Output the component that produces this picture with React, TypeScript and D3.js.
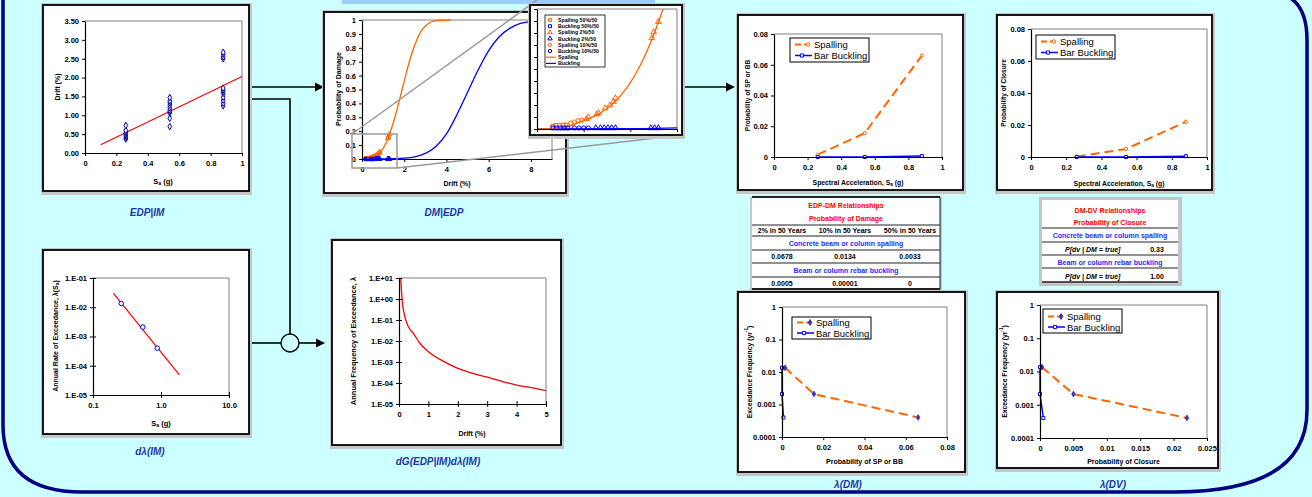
import React, { useEffect, useRef } from 'react';
import * as d3 from 'd3';

const FONT = '"Liberation Sans", Arial, Helvetica, sans-serif';
const ORANGE = '#ff6600';
const BLUE = '#0000ff';
const NAVY = '#000080';
const CAPTION = '#1f36a8';

// EDP | IM : drift recorded at three Sa levels
const edpSaLevels = [0.26, 0.54, 0.88];
const edpDriftLow = [0.37, 0.41, 0.45, 0.48, 0.52, 0.56, 0.6, 0.73];
const edpDriftMid = [0.7, 0.92, 1.06, 1.1, 1.14, 1.2, 1.27, 1.33, 1.38, 1.47];
const edpDriftHigh = [1.25, 1.32, 1.4, 1.48, 1.58, 1.63, 1.67, 1.72, 2.5, 2.55, 2.62, 2.67];
const edpFitSa = [0.1, 1.0];
const edpFitDrift = [0.22, 2.03];
const edpDriftTicks = [0, 0.5, 1, 1.5, 2, 2.5, 3, 3.5];
const saTicks = [0, 0.2, 0.4, 0.6, 0.8, 1];

// d lambda(IM)
const hazardSa = [0.26, 0.54, 0.88];
const hazardRate = [0.0135, 0.0021, 0.0004];
const hazardFitSa = [0.2, 1.85];
const hazardFitRate = [0.03, 0.00005];
const hazardSaTicks = [0.1, 1, 10];
const hazardRateTicks = [1e-5, 1e-4, 1e-3, 1e-2, 1e-1];

// DM | EDP fragility curves
const spallDrift = [0, 0.2, 0.35, 0.45, 0.55, 0.65, 0.75, 0.85, 0.95, 1.05, 1.15, 1.25, 1.35, 1.5, 1.7, 1.9, 2.1, 2.3, 2.5, 2.8, 3.1, 3.5, 4.2];
const spallProb = [0, 0.001, 0.005, 0.011, 0.017, 0.024, 0.034, 0.048, 0.066, 0.09, 0.12, 0.157, 0.2, 0.27, 0.38, 0.5, 0.62, 0.73, 0.82, 0.92, 0.97, 0.995, 1.0];
const buckDrift = [0, 1, 1.5, 2, 2.5, 3, 3.5, 4, 4.5, 5, 5.5, 6, 6.5, 7, 7.5, 8, 8.5, 9];
const buckProb = [0, 0.0005, 0.002, 0.006, 0.016, 0.04, 0.09, 0.18, 0.32, 0.48, 0.64, 0.78, 0.88, 0.94, 0.975, 0.99, 0.997, 1];
const fragDriftTicks = [0, 2, 4, 6, 8];
const fragProbTicks = [0, 0.1, 0.2, 0.3, 0.4, 0.5, 0.6, 0.7, 0.8, 0.9, 1];

// fragility sample points (drift %, probability)
const spall50Drift = [0.17, 0.2, 0.24, 0.28, 0.31];
const spall50Prob = [0.003, 0.004, 0.004, 0.005, 0.005];
const buck50Drift = [0.17, 0.21, 0.25, 0.29, 0.33];
const buck50Prob = [0, 0, 0, 0, 0];
const spall2Drift = [0.53, 0.55, 0.64, 0.66, 0.73, 0.78, 0.82, 0.84, 1.23, 1.25, 1.3];
const spall2Prob = [0.015, 0.018, 0.023, 0.025, 0.033, 0.038, 0.044, 0.05, 0.15, 0.16, 0.177];
const buck2Drift = [0.63, 0.68, 0.72, 0.76, 0.8, 0.84, 1.22, 1.26, 1.3];
const buck2Prob = [0, 0, 0, 0, 0, 0, 0, 0, 0];
const spall10Drift = [0.36, 0.4, 0.44, 0.48];
const spall10Prob = [0.008, 0.01, 0.012, 0.013];
const buck10Drift = [0.4, 0.45, 0.5, 0.55];
const buck10Prob = [0, 0, 0, 0];
const insetLegend = ['Spalling 50%/50', 'Buckling 50%/50', 'Spalling 2%/50', 'Buckling 2%/50', 'Spalling 10%/50', 'Buckling 10%/50', 'Spalling', 'Buckling'];

// dG(EDP|IM) d lambda(IM)
const driftHazDrift = [0.06, 0.08, 0.1, 0.12, 0.15, 0.2, 0.32, 0.5, 0.71, 1, 1.5, 2, 2.5, 3, 3.5, 4, 4.5, 5];
const driftHazRate = [10, 3, 1.3, 0.55, 0.3, 0.14, 0.048, 0.022, 0.0078, 0.0031, 0.0011, 0.0005, 0.00029, 0.00019, 0.00012, 0.00008, 0.00006, 0.000043];
const driftHazDriftTicks = [0, 1, 2, 3, 4, 5];
const driftHazRateTicks = [1e-5, 1e-4, 1e-3, 1e-2, 1e-1, 1, 10];

// DM and DV per Sa level
const saLevels = [0.26, 0.54, 0.88];
const pSpalling = [0.0015, 0.0155, 0.066];
const pBuckling = [0, 0, 0.0007];
const pClosureSpalling = [0.0003, 0.005, 0.022];
const pClosureBuckling = [0, 0, 0.0005];
const rateLevels = [0.0135, 0.0021, 0.0004];
const probTicks = [0, 0.02, 0.04, 0.06, 0.08];
const closureTicks = [0, 0.005, 0.01, 0.015, 0.02, 0.025];
const exceedTicks = [0.0001, 0.001, 0.01, 0.1, 1];

// tables
const returnPeriods = ['2% in 50 Years', '10% in 50 Years', '50% in 50 Years'];
const spallingDamage = ['0.0678', '0.0134', '0.0033'];
const bucklingDamage = ['0.0005', '0.00001', '0'];
const closureSpalling = '0.33';
const closureBuckling = '1.00';

export default function App() {
  const ref = useRef<SVGSVGElement>(null);

  useEffect(() => {
    const svg = d3.select(ref.current);
    svg.selectAll('*').remove();

    const text = (x: number, y: number, str: string, o: any = {}) =>
      svg.append('text').attr('x', x).attr('y', y)
        .attr('font-family', FONT).attr('font-size', o.size ?? 7)
        .attr('font-weight', o.weight ?? 'bold').attr('font-style', o.style ?? 'normal')
        .attr('fill', o.fill ?? '#000').attr('text-anchor', o.anchor ?? 'middle')
        .attr('dominant-baseline', 'central').text(str);

    // text made of parts, plain / sub / sup, optionally rotated
    const rich = (x: number, y: number, parts: any[], size: number, rotate = false) => {
      const t = svg.append('text')
        .attr('transform', `translate(${x},${y})${rotate ? ' rotate(-90)' : ''}`)
        .attr('font-family', FONT).attr('font-size', size).attr('font-weight', 'bold')
        .attr('text-anchor', 'middle').attr('dominant-baseline', 'central').attr('fill', '#000');
      let shift = 0;
      parts.forEach(([s, kind]) => {
        const ts = t.append('tspan').text(s);
        const want = kind === 'sub' ? size * 0.3 : kind === 'sup' ? -size * 0.4 : 0;
        ts.attr('dy', want - shift);
        shift = want;
        if (kind === 'sub' || kind === 'sup') ts.attr('font-size', size * 0.7);
      });
    };

    const frame = (x0: number, y0: number, x1: number, y1: number) => {
      svg.append('rect').attr('x', x0 - 2).attr('y', y0 - 2).attr('width', x1 - x0 + 5).attr('height', y1 - y0 + 6).attr('fill', '#c6c6c6');
      svg.append('rect').attr('x', x0).attr('y', y0).attr('width', x1 - x0).attr('height', y1 - y0)
        .attr('fill', '#fff').attr('stroke', '#000').attr('stroke-width', 1.8);
    };

    const plotBox = (x0: number, y0: number, x1: number, y1: number) => {
      svg.append('path').attr('d', `M${x0},${y0}H${x1}V${y1}`).attr('fill', 'none').attr('stroke', '#808080').attr('stroke-width', 1);
    };

    const styleAxis = (g: any, size: number) => {
      g.attr('font-family', FONT).attr('font-size', size).attr('font-weight', 'bold');
      g.select('.domain').attr('stroke', '#000').attr('stroke-width', 1.2);
      g.selectAll('.tick line').attr('stroke', '#000');
      g.selectAll('.tick text').attr('fill', '#000');
    };

    const leftAxis = (xPos: number, scale: any, ticks: number[], fmt: any, size = 7.5, cross = false) => {
      const g = svg.append('g').attr('transform', `translate(${xPos},0)`)
        .call(d3.axisLeft(scale).tickValues(ticks).tickFormat(fmt).tickSizeInner(3).tickSizeOuter(0).tickPadding(3));
      styleAxis(g, size);
      if (cross) g.selectAll('.tick line').attr('x1', 3);
      return g;
    };

    const bottomAxis = (yPos: number, scale: any, ticks: number[], fmt: any, size = 7.5, cross = false) => {
      const g = svg.append('g').attr('transform', `translate(0,${yPos})`)
        .call(d3.axisBottom(scale).tickValues(ticks).tickFormat(fmt).tickSizeInner(3).tickSizeOuter(0).tickPadding(5));
      styleAxis(g, size);
      if (cross) g.selectAll('.tick line').attr('y1', -3);
      return g;
    };

    const marker = (type: string, x: number, y: number, color: string, fill: string, size = 14) => {
      const t = type === 'square' ? d3.symbolSquare : type === 'triangle' ? d3.symbolTriangle
        : type === 'diamond' ? d3.symbolDiamond : d3.symbolCircle;
      svg.append('path').attr('d', d3.symbol().type(t).size(size)()).attr('transform', `translate(${x},${y})`)
        .attr('fill', fill).attr('stroke', color).attr('stroke-width', 1);
    };

    const plain = (d: number) => String(d);
    const sci = (d: number) => {
      const e = Math.round(Math.log10(d));
      return `1.E${e < 0 ? '-' : '+'}${String(Math.abs(e)).padStart(2, '0')}`;
    };

    const arrow = (tipX: number, y: number) => {
      svg.append('path').attr('d', `M${tipX},${y}L${tipX - 9},${y - 4.5}L${tipX - 9},${y + 4.5}Z`).attr('fill', '#000');
    };

    // ---------------- background ----------------
    svg.append('rect').attr('width', 1312).attr('height', 497).attr('fill', '#ccffff');
    svg.append('rect').attr('x', 342).attr('y', 0).attr('width', 313).attr('height', 4).attr('fill', '#99ccff');
    svg.append('path')
      .attr('d', 'M3,-2V425Q3,492 82,492H1175Q1307,492 1307,410V40Q1307,2 1282,-6')
      .attr('fill', 'none').attr('stroke', NAVY).attr('stroke-width', 3.5);

    // ---------------- connectors ----------------
    const conn = (d: string) => svg.append('path').attr('d', d).attr('fill', 'none').attr('stroke', '#000').attr('stroke-width', 1.6);
    conn('M250,87H316');
    arrow(324, 87);
    conn('M250,99H290V334');
    conn('M250,343H281');
    conn('M299,343H317');
    arrow(325, 343);
    svg.append('circle').attr('cx', 290).attr('cy', 343).attr('r', 9).attr('fill', '#ccffff').attr('stroke', '#000').attr('stroke-width', 1.4);
    conn('M684,87H727');
    arrow(735, 87);

    // ---------------- EDP | IM ----------------
    {
      frame(43, 5, 249, 191);
      const x = d3.scaleLinear([0, 1], [85, 242]);
      const y = d3.scaleLinear([0, 3.5], [153, 21]);
      plotBox(85, 21, 242, 153);
      svg.append('line').attr('x1', x(edpFitSa[0])).attr('y1', y(edpFitDrift[0])).attr('x2', x(edpFitSa[1])).attr('y2', y(edpFitDrift[1]))
        .attr('stroke', '#ff0000').attr('stroke-width', 1.2);
      [edpDriftLow, edpDriftMid, edpDriftHigh].forEach((arr, i) =>
        arr.forEach(v => marker('diamond', x(edpSaLevels[i]), y(v), '#0000a0', '#fff', 12)));
      leftAxis(85, y, edpDriftTicks, d3.format('.2f'));
      bottomAxis(153, x, saTicks, plain);
      rich(57, 87, [['Drift (%)']], 7, true);
      rich(163, 181, [['S'], ['a', 'sub'], [' (g)']], 7.5);
      text(147, 212, 'EDP|IM', { size: 10, style: 'italic', fill: CAPTION });
    }

    // ---------------- d lambda(IM) ----------------
    {
      frame(43, 250, 249, 434);
      const x = d3.scaleLog([0.1, 10], [93, 229]);
      const y = d3.scaleLog([1e-5, 1e-1], [395, 278]);
      plotBox(93, 278, 229, 395);
      svg.append('line').attr('x1', x(hazardFitSa[0])).attr('y1', y(hazardFitRate[0])).attr('x2', x(hazardFitSa[1])).attr('y2', y(hazardFitRate[1]))
        .attr('stroke', '#ff0000').attr('stroke-width', 1.2);
      hazardSa.forEach((s, i) => marker('circle', x(s), y(hazardRate[i]), '#0000ff', '#fff', 16));
      leftAxis(93, y, hazardRateTicks, sci, 7.5, true);
      bottomAxis(395, x, hazardSaTicks, d3.format('.1f'), 7.5, true);
      rich(55, 336, [['Annual Rate of Exceedance, '], ['λ'], ['(S'], ['a', 'sub'], [')']], 7, true);
      rich(161, 423, [['S'], ['a', 'sub'], [' (g)']], 7.5);
      text(150, 451, 'dλ(IM)', { size: 10, style: 'italic', fill: CAPTION });
    }

    // ---------------- DM | EDP ----------------
    const spallPts = spallDrift.map((d, i) => [d, spallProb[i]]);
    const buckPts = buckDrift.map((d, i) => [d, buckProb[i]]);
    const samples = [
      { xs: spall50Drift, ys: spall50Prob, type: 'square', color: ORANGE },
      { xs: buck50Drift, ys: buck50Prob, type: 'square', color: BLUE },
      { xs: spall2Drift, ys: spall2Prob, type: 'triangle', color: ORANGE },
      { xs: buck2Drift, ys: buck2Prob, type: 'triangle', color: BLUE },
      { xs: spall10Drift, ys: spall10Prob, type: 'circle', color: ORANGE },
      { xs: buck10Drift, ys: buck10Prob, type: 'circle', color: BLUE },
    ];
    {
      frame(324, 12, 566, 193);
      const x = d3.scaleLinear([0, 9], [362, 552]);
      const y = d3.scaleLinear([0, 1], [159, 20]);
      plotBox(362, 20, 552, 159);
      const line = d3.line<any>().x(d => x(d[0])).y(d => y(d[1])).curve(d3.curveMonotoneX);
      svg.append('path').attr('d', line(buckPts)).attr('fill', 'none').attr('stroke', BLUE).attr('stroke-width', 1.3);
      svg.append('path').attr('d', line(spallPts)).attr('fill', 'none').attr('stroke', ORANGE).attr('stroke-width', 1.3);
      samples.forEach(s => s.xs.forEach((d, i) => marker(s.type, x(d), y(s.ys[i]), s.color, 'none', 10)));
      leftAxis(362, y, fragProbTicks, plain);
      bottomAxis(159, x, fragDriftTicks, plain);
      rich(338, 89, [['Probability of Damage']], 7, true);
      rich(457, 183, [['Drift (%)']], 7);
      text(444, 212, 'DM|EDP', { size: 10, style: 'italic', fill: CAPTION });

      // zoom callout
      svg.append('rect').attr('x', 352).attr('y', 134).attr('width', 45).attr('height', 34)
        .attr('fill', 'none').attr('stroke', '#999').attr('stroke-width', 1.5);
      svg.append('line').attr('x1', 352).attr('y1', 134).attr('x2', 537).attr('y2', 0).attr('stroke', '#999').attr('stroke-width', 1.5);
      svg.append('line').attr('x1', 397).attr('y1', 168).attr('x2', 682).attr('y2', 135).attr('stroke', '#999').attr('stroke-width', 1.5);
    }

    // inset
    {
      frame(530, 5, 682, 135);
      const x = d3.scaleLinear([0, 1.5], [537, 677]);
      const y = d3.scaleLinear([0, 0.2], [129, 9]);
      plotBox(537, 9, 677, 129);
      svg.append('clipPath').attr('id', 'insetClip').append('rect').attr('x', 537).attr('y', 9).attr('width', 140).attr('height', 120);
      const line = d3.line<any>().x(d => x(d[0])).y(d => y(d[1])).curve(d3.curveMonotoneX);
      svg.append('path').attr('d', line(buckPts)).attr('clip-path', 'url(#insetClip)').attr('fill', 'none').attr('stroke', BLUE).attr('stroke-width', 1.3);
      svg.append('path').attr('d', line(spallPts)).attr('clip-path', 'url(#insetClip)').attr('fill', 'none').attr('stroke', ORANGE).attr('stroke-width', 1.3);
      samples.forEach(s => s.xs.forEach((d, i) => marker(s.type, x(d), y(s.ys[i]) - 1, s.color, 'none', 14)));
      leftAxis(537, y, d3.range(0, 11).map(i => i * 0.02), () => '', 7);
      bottomAxis(129, x, [0, 0.5, 1, 1.5], () => '', 7);

      // legend
      svg.append('rect').attr('x', 545).attr('y', 15).attr('width', 60).attr('height', 52).attr('fill', '#fff').attr('stroke', '#000').attr('stroke-width', 0.8);
      const types = ['square', 'square', 'triangle', 'triangle', 'circle', 'circle'];
      insetLegend.forEach((lab, i) => {
        const ry = 20 + i * 6.2;
        const color = i % 2 === 0 ? ORANGE : BLUE;
        if (i < 6) marker(types[i], 550, ry, color, 'none', 9);
        else svg.append('line').attr('x1', 546).attr('x2', 556).attr('y1', ry).attr('y2', ry).attr('stroke', color).attr('stroke-width', 1.2);
        text(558, ry, lab, { size: 5.2, anchor: 'start' });
      });
    }

    // ---------------- dG(EDP|IM) d lambda(IM) ----------------
    {
      frame(332, 240, 561, 445);
      const x = d3.scaleLinear([0, 5], [399, 546]);
      const y = d3.scaleLog([1e-5, 10], [404, 278]);
      plotBox(399, 278, 546, 404);
      const line = d3.line<number>().x((d, i) => x(driftHazDrift[i])).y(d => y(d)).curve(d3.curveMonotoneX);
      svg.append('path').attr('d', line(driftHazRate)).attr('fill', 'none').attr('stroke', '#ff0000').attr('stroke-width', 1.3);
      leftAxis(399, y, driftHazRateTicks, sci, 7.5, true);
      bottomAxis(404, x, driftHazDriftTicks, plain, 7.5, true);
      rich(353, 341, [['Annual Frequency of Exceedance, λ']], 7.5, true);
      rich(472, 433, [['Drift (%)']], 7);
      text(438, 461, 'dG(EDP|IM)dλ(IM)', { size: 10, style: 'italic', fill: CAPTION });
    }

    // ---------------- legends for DM / DV charts ----------------
    const legend = (x0: number, y0: number, w: number, h: number, rows: number[], spallMk: any, buckMk: any) => {
      svg.append('rect').attr('x', x0).attr('y', y0).attr('width', w).attr('height', h).attr('fill', '#fff').attr('stroke', '#000').attr('stroke-width', 1);
      svg.append('line').attr('x1', x0 + 5).attr('x2', x0 + 22).attr('y1', rows[0]).attr('y2', rows[0])
        .attr('stroke', ORANGE).attr('stroke-width', 2).attr('stroke-dasharray', '6,3');
      marker(spallMk.type, x0 + 18, rows[0], spallMk.color, spallMk.fill, 10);
      svg.append('line').attr('x1', x0 + 5).attr('x2', x0 + 22).attr('y1', rows[1]).attr('y2', rows[1])
        .attr('stroke', BLUE).attr('stroke-width', 1.5);
      marker(buckMk.type, x0 + 12, rows[1], buckMk.color, buckMk.fill, 10);
      text(x0 + 24, rows[0], 'Spalling', { size: 9.5, weight: 'normal', anchor: 'start' });
      text(x0 + 24, rows[1], 'Bar Buckling', { size: 9.5, weight: 'normal', anchor: 'start' });
    };

    const saChart = (c: any) => {
      frame(c.box[0], c.box[1], c.box[2], c.box[3]);
      const [px0, py0, px1, py1] = c.plot;
      const x = d3.scaleLinear([0, 1], [px0, px1]);
      const y = d3.scaleLinear([0, 0.08], [py1, py0]);
      plotBox(px0, py0, px1, py1);
      const line = d3.line<number>().x((d, i) => x(saLevels[i])).y(d => y(d));
      svg.append('path').attr('d', line(c.spall)).attr('fill', 'none').attr('stroke', ORANGE).attr('stroke-width', 2).attr('stroke-dasharray', '9,5');
      svg.append('path').attr('d', line(c.buck)).attr('fill', 'none').attr('stroke', BLUE).attr('stroke-width', 1.5);
      c.spall.forEach((v: number, i: number) => marker('circle', x(saLevels[i]), y(v), ORANGE, '#fff', 8));
      c.buck.forEach((v: number, i: number) => marker('square', x(saLevels[i]), y(v), BLUE, '#fff', 9));
      leftAxis(px0, y, probTicks, plain);
      bottomAxis(py1, x, saTicks, plain);
      rich(c.yLabelX, (py0 + py1) / 2, [[c.yLabel]], 6.5, true);
      rich((px0 + px1) / 2, c.xLabelY, [['Spectral Acceleration, S'], ['a', 'sub'], [' (g)']], 6.8);
      legend(c.leg[0], c.leg[1], c.leg[2], c.leg[3], c.rows,
        { type: 'circle', color: ORANGE, fill: '#fff' }, { type: 'square', color: BLUE, fill: '#fff' });
    };

    saChart({
      box: [738, 15, 963, 190], plot: [774, 34, 942, 157], spall: pSpalling, buck: pBuckling,
      yLabel: 'Probability of SP or BB', yLabelX: 747, xLabelY: 182, leg: [790, 38, 79, 24], rows: [44.5, 55.5],
    });
    saChart({
      box: [997, 15, 1212, 190], plot: [1031, 29, 1207, 157], spall: pClosureSpalling, buck: pClosureBuckling,
      yLabel: 'Probability of Closure', yLabelX: 1003, xLabelY: 183, leg: [1036, 35, 79, 24], rows: [41.5, 52.5],
    });

    const lamChart = (c: any) => {
      frame(c.box[0], c.box[1], c.box[2], c.box[3]);
      const [px0, py0, px1, py1] = c.plot;
      const x = d3.scaleLinear([0, c.xMax], [px0, px1]);
      const y = d3.scaleLog([1e-4, 1], [py1, py0]);
      plotBox(px0, py0, px1, py1);
      const line = (xs: number[]) => d3.line<number>().x((d, i) => x(xs[i])).y(d => y(d))(rateLevels);
      svg.append('path').attr('d', line(c.spall)).attr('fill', 'none').attr('stroke', ORANGE).attr('stroke-width', 2).attr('stroke-dasharray', '9,5');
      svg.append('path').attr('d', line(c.buck)).attr('fill', 'none').attr('stroke', BLUE).attr('stroke-width', 1.5);
      rateLevels.forEach((r, i) => marker('diamond', x(c.spall[i]), y(r), '#3333cc', '#3333cc', 9));
      rateLevels.forEach((r, i) => marker('square', x(c.buck[i]), y(r), BLUE, '#fff', 9));
      leftAxis(px0, y, exceedTicks, plain);
      bottomAxis(py1, x, c.xTicks, plain);
      rich(c.yLabelX, (py0 + py1) / 2, [['Exceedance Frequency (yr'], ['-1', 'sup'], [')']], 6.8, true);
      rich((px0 + px1) / 2, c.xLabelY, [[c.xLabel]], 7);
      legend(c.leg[0], c.leg[1], c.leg[2], c.leg[3], c.rows,
        { type: 'diamond', color: '#3333cc', fill: '#3333cc' }, { type: 'square', color: BLUE, fill: '#fff' });
      text(c.cap[0], c.cap[1], c.caption, { size: 10, style: 'italic', fill: CAPTION });
    };

    lamChart({
      box: [738, 292, 965, 472], plot: [782, 307, 947, 437], xMax: 0.08, xTicks: probTicks,
      spall: pSpalling, buck: pBuckling, yLabelX: 749, xLabel: 'Probability of SP or BB', xLabelY: 461,
      leg: [792, 317, 79, 22], rows: [322.5, 333], caption: 'λ(DM)', cap: [848, 484],
    });
    lamChart({
      box: [997, 292, 1218, 468], plot: [1040, 305, 1207, 438], xMax: 0.025, xTicks: closureTicks,
      spall: pClosureSpalling, buck: pClosureBuckling, yLabelX: 1004, xLabel: 'Probability of Closure', xLabelY: 461,
      leg: [1043, 309, 79, 24], rows: [316.5, 327], caption: 'λ(DV)', cap: [1113, 484],
    });

    // ---------------- tables ----------------
    const hline = (x0: number, x1: number, y: number, w = 1) =>
      svg.append('line').attr('x1', x0).attr('x2', x1).attr('y1', y).attr('y2', y).attr('stroke', '#222').attr('stroke-width', w);

    {
      const [x0, y0, x1, y1] = [752, 197, 940, 289];
      svg.append('rect').attr('x', x0 - 2).attr('y', y0).attr('width', x1 - x0 + 4).attr('height', y1 - y0 + 2).attr('fill', '#c6c6c6');
      svg.append('rect').attr('x', x0).attr('y', y0).attr('width', x1 - x0).attr('height', y1 - y0).attr('fill', '#fff');
      hline(x0, x1, y0, 2);
      hline(x0, x1, y1, 2);
      svg.append('line').attr('x1', x1).attr('x2', x1).attr('y1', y0).attr('y2', y1).attr('stroke', '#222').attr('stroke-width', 1);
      [225, 236, 250, 263, 277].forEach(y => hline(x0, x1, y));
      text(846, 205, 'EDP-DM Relationships', { fill: '#ff0000' });
      text(846, 218, 'Probability of Damage', { fill: '#ff0000' });
      const cols = [782, 845, 910];
      returnPeriods.forEach((s, i) => text(cols[i], 230.5, s));
      text(846, 243, 'Concrete beam or column spalling', { fill: '#2a2aff' });
      spallingDamage.forEach((s, i) => text(cols[i], 256.5, s));
      text(846, 270, 'Beam or column rebar buckling', { fill: '#2a2aff' });
      bucklingDamage.forEach((s, i) => text(cols[i], 283, s));
    }

    {
      const [x0, y0, x1, y1] = [1042, 200, 1178, 282];
      svg.append('rect').attr('x', x0 - 3).attr('y', y0 - 3).attr('width', x1 - x0 + 7).attr('height', y1 - y0 + 7).attr('fill', '#c6c6c6');
      svg.append('rect').attr('x', x0).attr('y', y0).attr('width', x1 - x0).attr('height', y1 - y0).attr('fill', '#fff');
      [228, 242, 255, 268].forEach(y => hline(x0, x1, y));
      hline(x0, x1, y1, 1.5);
      const cx = (x0 + x1) / 2;
      text(cx, 210, 'DM-DV Relationships', { fill: '#ff0000' });
      text(cx, 222, 'Probability of Closure', { fill: '#ff0000' });
      text(cx, 235.5, 'Concrete beam or column spalling', { fill: '#2a2aff' });
      text(1065, 249, 'P[dv | DM = true]', { style: 'italic', anchor: 'start' });
      text(1157, 249, closureSpalling);
      text(cx, 262, 'Beam or column rebar buckling', { fill: '#2a2aff' });
      text(1065, 276, 'P[dv | DM = true]', { style: 'italic', anchor: 'start' });
      text(1157, 276, closureBuckling);
    }
  }, []);

  return (
    <svg
      ref={ref}
      width={1312}
      height={497}
      style={{ position: 'fixed', left: 0, top: 0, display: 'block' }}
    />
  );
}
